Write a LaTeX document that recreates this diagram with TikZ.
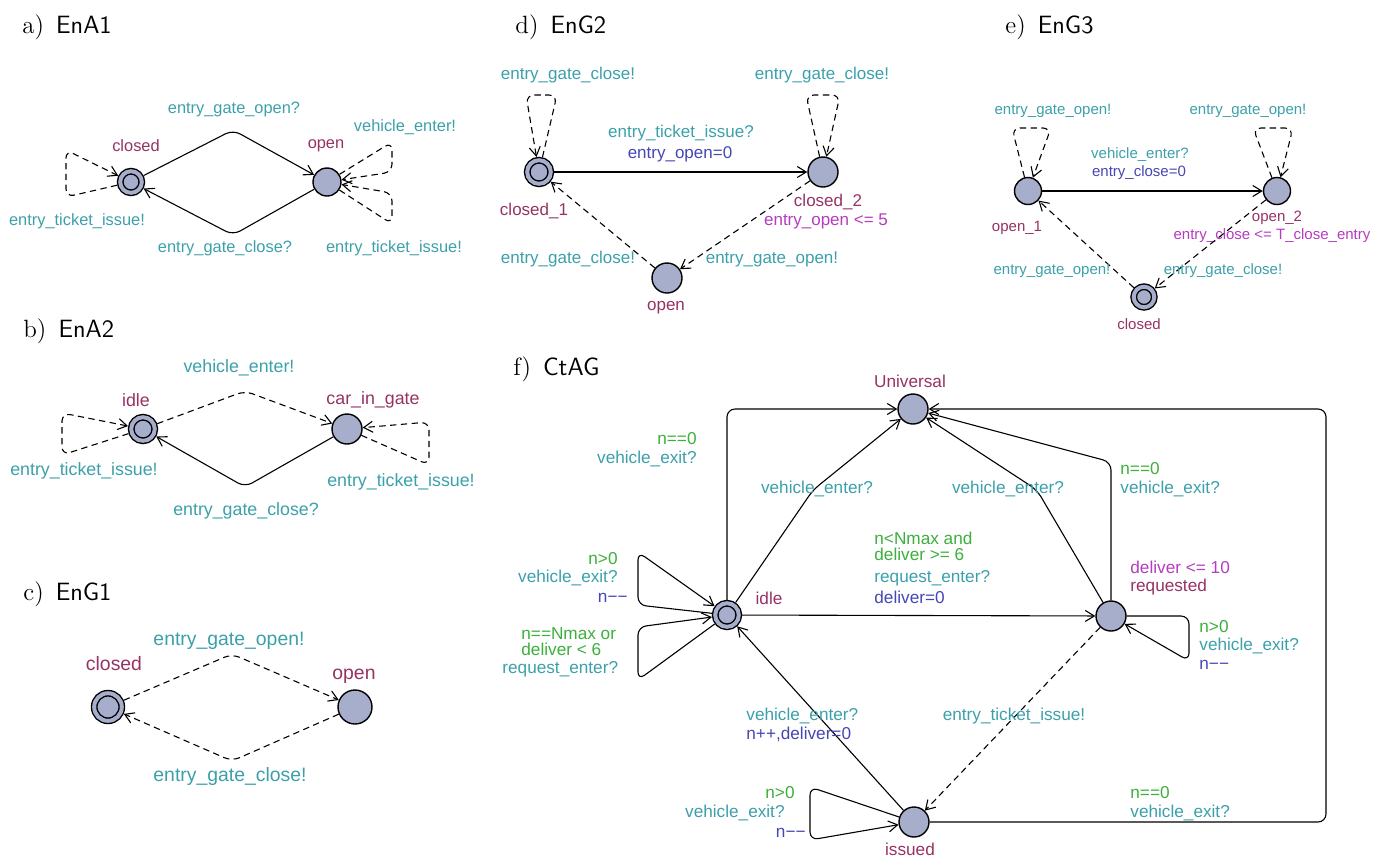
\documentclass[tikz,border=0pt]{standalone}
\usepackage{fontspec}
\newfontfamily\labfont{Liberation Sans}
\usetikzlibrary{arrows.meta}
\definecolor{locfill}{RGB}{166,174,204}
\definecolor{locname}{RGB}{150,50,100}
\definecolor{synccol}{RGB}{60,160,170}
\definecolor{guardcol}{RGB}{60,175,60}
\definecolor{updcol}{RGB}{70,70,180}
\definecolor{invcol}{RGB}{180,60,190}
\begin{document}
\begin{tikzpicture}[x=0.5pt, y=-0.5pt,
  >={Straight Barb[length=4.5pt,width=5.5pt]},
  loc/.style={circle, draw, line width=0.7pt, fill=locfill, inner sep=0pt, minimum size=#1},
  initloc/.style={loc=#1, double=locfill, double distance=2pt, outer sep=1.7pt},
  trans/.style={line width=0.55pt, rounded corners=4pt, ->},
  chan/.style={trans, dash pattern=on 3.2pt off 2.2pt},
  lname/.style={text=locname, inner sep=0pt},
  sync/.style={text=synccol, inner sep=0pt},
  guard/.style={text=guardcol, inner sep=0pt, align=left},
  upd/.style={text=updcol, inner sep=0pt},
  inv/.style={text=invcol, inner sep=0pt},
  title/.style={font=\fontsize{12.5}{14}\selectfont, inner sep=0pt, anchor=base west}]
  \useasboundingbox (0,0) rectangle (1377,858);

  % a) EnA1
  \node[title] (ta) at (22,33) {a)\hspace{6pt}\textsf{EnA1}};
  \begin{scope}[font=\labfont\fontsize{8.2}{8}\selectfont]
  \node[initloc=10.8pt] (aclosed) at (131,182) {};
  \node[loc=14pt] (aopen) at (327,182) {};
  \node[lname] (aclosedn) at (136,146) {closed};
  \node[lname] (aopenn) at (326,146) {open};
  \draw[trans] (aclosed) -- (233,130) -- (aopen);
  \draw[trans] (aopen) -- (233,235) -- (aclosed);
  \draw[chan] (aclosed) -- (66,197) -- (66,150) -- (aclosed);
  \draw[chan] (aopen) -- (392,142) -- (392,172) -- (aopen);
  \draw[chan] (aopen) -- (392,224) -- (392,193) -- (aopen);
  \node[sync] (as1) at (234,109) {entry\_gate\_open?};
  \node[sync] (as2) at (225,248) {entry\_gate\_close?};
  \node[sync] (as3) at (77,221) {entry\_ticket\_issue!};
  \node[sync] (as4) at (405,127) {vehicle\_enter!};
  \node[sync] (as5) at (394,248) {entry\_ticket\_issue!};
  \end{scope}

  % b) EnA2
  \node[title] (tb) at (23,337) {b)\hspace{6pt}\textsf{EnA2}};
  \begin{scope}[font=\labfont\fontsize{8.9}{8.5}\selectfont]
  \node[initloc=11.8pt] (bidle) at (143,429) {};
  \node[loc=15pt] (bcar) at (347,429) {};
  \node[lname] (bidlen) at (136,400) {idle};
  \node[lname] (bcarn) at (373,400) {car\_in\_gate};
  \draw[chan] (bidle) -- (245,391) -- (bcar);
  \draw[trans] (bcar) -- (245,487) -- (bidle);
  \draw[chan] (bidle) -- (62,455) -- (62,413) -- (bidle);
  \draw[chan] (bcar) -- (429,465) -- (429,422) -- (bcar);
  \node[sync] (bs1) at (239,368) {vehicle\_enter!};
  \node[sync] (bs2) at (246,511) {entry\_gate\_close?};
  \node[sync] (bs3) at (84,471) {entry\_ticket\_issue!};
  \node[sync] (bs4) at (401,482) {entry\_ticket\_issue!};
  \end{scope}

  % c) EnG1
  \node[title] (tc) at (23,600) {c)\hspace{6pt}\textsf{EnG1}};
  \begin{scope}[font=\labfont\fontsize{9.7}{9}\selectfont]
  \node[initloc=13.8pt] (cclosed) at (108,707) {};
  \node[loc=17pt] (copen) at (355,707) {};
  \node[lname] (cclosedn) at (114,664) {closed};
  \node[lname] (copenn) at (354,676) {open};
  \draw[chan] (cclosed) -- (232,654) -- (copen);
  \draw[chan] (copen) -- (232,761) -- (cclosed);
  \node[sync] (cs1) at (229,641) {entry\_gate\_open!};
  \node[sync] (cs2) at (230,776) {entry\_gate\_close!};
  \end{scope}

  % d) EnG2
  \node[title] (td) at (515,33) {d)\hspace{6pt}\textsf{EnG2}};
  \begin{scope}[font=\labfont\fontsize{8.5}{8}\selectfont]
  \node[initloc=11.8pt] (dc1) at (539,172) {};
  \node[loc=15pt] (dc2) at (823,172) {};
  \node[loc=15pt] (dopen) at (667,278) {};
  \node[lname] (dc1n) at (534,211) {closed\_1};
  \node[lname] (dc2n) at (828,202) {closed\_2};
  \node[inv] (dinv) at (826,221) {entry\_open <= 5};
  \node[lname] (dopenn) at (666,308) {open};
  \draw[trans] (dc1) -- (dc2);
  \draw[chan] (dc2) -- (dopen);
  \draw[chan] (dopen) -- (dc1);
  \draw[chan] (dc1) -- (557,95) -- (526,95) -- (dc1);
  \draw[chan] (dc2) -- (806,95) -- (840,95) -- (dc2);
  \node[sync] (ds1) at (568,75) {entry\_gate\_close!};
  \node[sync] (ds2) at (822,75) {entry\_gate\_close!};
  \node[sync] (ds3) at (681,133) {entry\_ticket\_issue?};
  \node[upd] (du1) at (680,154) {entry\_open=0};
  \node[sync] (ds4) at (772,259) {entry\_gate\_open!};
  \node[sync] (ds5) at (568,259) {entry\_gate\_close!};
  \end{scope}

  % e) EnG3
  \node[title] (te) at (1005,33) {e)\hspace{6pt}\textsf{EnG3}};
  \begin{scope}[font=\labfont\fontsize{7.5}{7}\selectfont]
  \node[loc=13.5pt] (eo1) at (1028,191) {};
  \node[loc=13.5pt] (eo2) at (1277,191) {};
  \node[initloc=10.3pt] (eclosed) at (1144,297) {};
  \node[lname] (eo1n) at (1017,228) {open\_1};
  \node[lname] (eo2n) at (1277,218) {open\_2};
  \node[inv] (einv) at (1272,236) {entry\_close <= T\_close\_entry};
  \node[lname] (eclosedn) at (1139,324) {closed};
  \draw[trans] (eo1) -- (eo2);
  \draw[chan] (eo2) -- (eclosed);
  \draw[chan] (eclosed) -- (eo1);
  \draw[chan] (eo1) -- (1012,128) -- (1051,128) -- (eo1);
  \draw[chan] (eo2) -- (1253,128) -- (1293,128) -- (eo2);
  \node[sync] (es1) at (1053,111) {entry\_gate\_open!};
  \node[sync] (es2) at (1248,111) {entry\_gate\_open!};
  \node[sync] (es3) at (1140,155) {vehicle\_enter?};
  \node[upd] (eu1) at (1139,173) {entry\_close=0};
  \node[sync] (es4) at (1052,271) {entry\_gate\_open!};
  \node[sync] (es5) at (1223,271) {entry\_gate\_close!};
  \end{scope}

  % f) CtAG
  \node[title] (tf) at (513,375) {f)\hspace{6pt}\textsf{CtAG}};
  \begin{scope}[font=\labfont\fontsize{8.6}{8}\selectfont]
  \node[loc=15pt] (funiv) at (913,409) {};
  \node[initloc=11.8pt] (fidle) at (727,615) {};
  \node[loc=15pt] (freq) at (1111,616) {};
  \node[loc=15pt] (fiss) at (914,822) {};
  \node[lname] (funivn) at (910,381) {Universal};
  \node[lname] (fidlen) at (769,598) {idle};
  \node[lname, anchor=west] (freqn) at (1130,587) {requested};
  \node[inv, anchor=west] (finv) at (1130,567) {deliver <= 10};
  \node[lname] (fissn) at (910,849) {issued};
  % to Universal
  \draw[trans] (fidle) -- (727,409) -- (funiv);
  \draw[trans] (fidle) -- (813,490) -- (funiv);
  \draw[trans] (freq) -- (1037,490) -- (funiv);
  \draw[trans] (freq) -- (1111,462) -- (funiv);
  \draw[trans] (fiss) -- (1326,822) -- (1326,409) -- (funiv);
  \node[guard, anchor=east] (fg1) at (697,439) {n==0};
  \node[sync, anchor=east] (fs1) at (697,459) {vehicle\_exit?};
  \node[sync] (fs2) at (817,489) {vehicle\_enter?};
  \node[sync] (fs3) at (1008,489) {vehicle\_enter?};
  \node[guard, anchor=west] (fg2) at (1120,469) {n==0};
  \node[sync, anchor=west] (fs4) at (1120,489) {vehicle\_exit?};
  \node[guard, anchor=west] (fg3) at (1130,793) {n==0};
  \node[sync, anchor=west] (fs5) at (1130,813) {vehicle\_exit?};
  % idle, requested, issued
  \draw[trans] (fidle) -- (freq);
  \draw[chan] (freq) -- (fiss);
  \draw[trans] (fiss) -- (fidle);
  \node[guard, anchor=west] (fg4) at (874,546) {n<Nmax and\\deliver >= 6};
  \node[sync, anchor=west] (fs6) at (874,578) {request\_enter?};
  \node[upd, anchor=west] (fu1) at (874,597) {deliver=0};
  \node[sync] (fs7) at (1014,716) {entry\_ticket\_issue!};
  \node[sync, anchor=west] (fs8) at (746,716) {vehicle\_enter?};
  \node[upd, anchor=west] (fu2) at (746,734) {n++,deliver=0};
  % self loops
  \draw[trans] (fidle) -- (638,605) -- (638,552) -- (fidle);
  \draw[trans] (fidle) -- (638,680) -- (638,627) -- (fidle);
  \draw[trans] (freq) -- (1189,616) -- (1189,661) -- (freq);
  \draw[trans] (fiss) -- (810,787) -- (810,840) -- (fiss);
  \node[guard, anchor=east] (fg5) at (618,559) {n>0};
  \node[sync, anchor=east] (fs9) at (618,578) {vehicle\_exit?};
  \node[upd, anchor=east] (fu3) at (628,598) {n−−};
  \node[guard, anchor=west] (fg6) at (521,642) {n==Nmax or\\deliver < 6};
  \node[sync, anchor=west] (fs10) at (502,669) {request\_enter?};
  \node[guard, anchor=west] (fg7) at (1199,627) {n>0};
  \node[sync, anchor=west] (fs11) at (1199,646) {vehicle\_exit?};
  \node[upd, anchor=west] (fu4) at (1199,665) {n−−};
  \node[guard, anchor=east] (fg8) at (795,793) {n>0};
  \node[sync, anchor=east] (fs12) at (785,813) {vehicle\_exit?};
  \node[upd, anchor=east] (fu5) at (806,833) {n−−};
  \end{scope}
\end{tikzpicture}
\end{document}
